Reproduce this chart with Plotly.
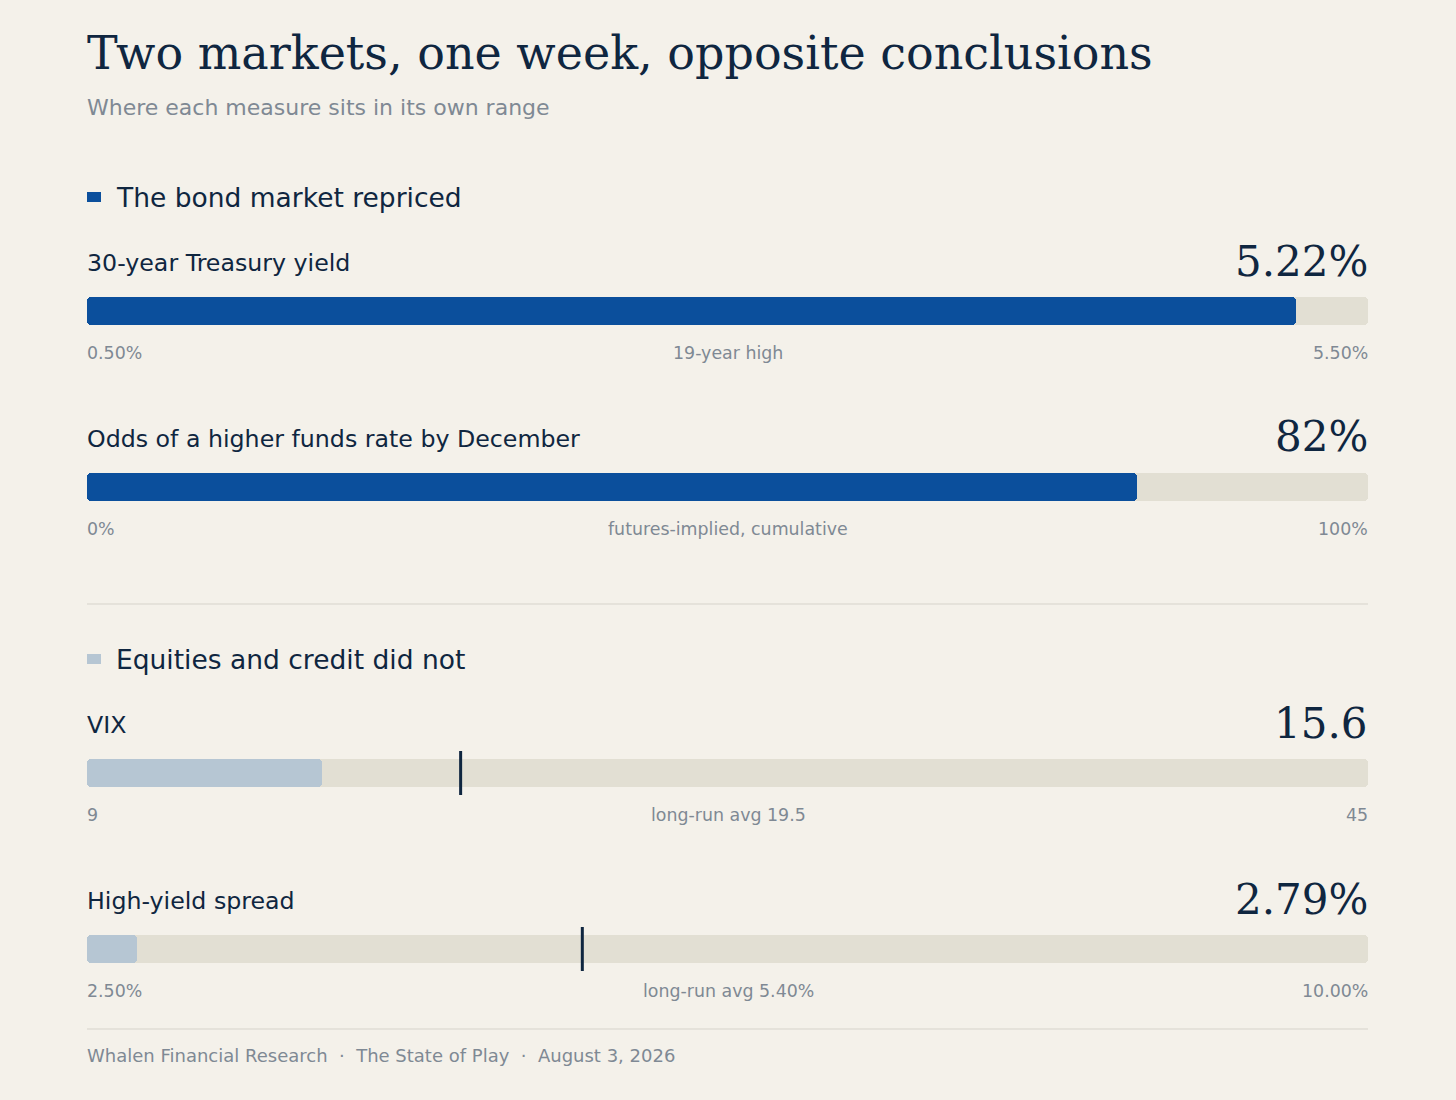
import plotly.graph_objects as go

# data
sections = ["The bond market repriced", "Equities and credit did not"]
section_colors = ["#0b4f9c", "#b6c6d3"]
metrics = ["30-year Treasury yield", "Odds of a higher funds rate by December",
           "VIX", "High-yield spread"]
metric_section = [0, 0, 1, 1]
values = [5.22, 82, 15.6, 2.79]
value_labels = ["5.22%", "82%", "15.6", "2.79%"]
range_min = [0.5, 0, 9, 2.5]
range_max = [5.5, 100, 45, 10.0]
min_labels = ["0.50%", "0%", "9", "2.50%"]
max_labels = ["5.50%", "100%", "45", "10.00%"]
notes = ["19-year high", "futures-implied, cumulative", "long-run avg 19.5", "long-run avg 5.40%"]
averages = [None, None, 19.5, 5.40]

W, H = 1456, 1100
L, R = 87, 1368
BG = "#f4f1ea"
TRACK = "#e2dfd3"
NAVY = "#0f2640"
GRAY = "#7f8994"
SANS = "DejaVu Sans"
SERIF = "DejaVu Serif"


def py(p):
    return 1 - p / H


def px(p):
    return p / W


def note(**kw):
    # plain text annotation, no padding around the text box
    d = dict(showarrow=False, borderpad=0, borderwidth=0, yanchor="middle")
    d.update(kw)
    return d


bar_centers = [311, 487, 773, 949]
section_y = [197, 659]

fig = go.Figure()
annotations = []
shapes = []

for i in range(len(metrics)):
    n = "" if i == 0 else str(i + 1)
    c = bar_centers[i]
    color = section_colors[metric_section[i]]
    # background track
    fig.add_trace(go.Bar(
        y=[0], x=[range_max[i] - range_min[i]], base=[range_min[i]], orientation="h",
        width=28 / 44, marker=dict(color=TRACK, cornerradius=4, line=dict(width=0)),
        xaxis="x" + n, yaxis="y" + n, hoverinfo="skip", showlegend=False))
    # value bar
    fig.add_trace(go.Bar(
        y=[0], x=[values[i] - range_min[i]], base=[range_min[i]], orientation="h",
        width=28 / 44, marker=dict(color=color, cornerradius=4, line=dict(width=0)),
        xaxis="x" + n, yaxis="y" + n, showlegend=False,
        hovertemplate=metrics[i] + ": " + value_labels[i] + "<extra></extra>"))
    if averages[i] is not None:
        fig.add_trace(go.Scatter(
            x=[averages[i], averages[i]], y=[-0.5, 0.5], mode="lines",
            line=dict(color=NAVY, width=3), xaxis="x" + n, yaxis="y" + n,
            showlegend=False, hoverinfo="skip"))

    fig.layout["xaxis" + n] = dict(domain=[px(L), px(R)], range=[range_min[i], range_max[i]],
                                  visible=False, fixedrange=True, anchor="y" + n)
    fig.layout["yaxis" + n] = dict(domain=[py(c + 22), py(c - 22)], range=[-0.5, 0.5],
                                  visible=False, fixedrange=True, anchor="x" + n)

    xr = "x" + n
    annotations += [
        note(text=metrics[i], x=px(L), y=py(c - 48), xref="paper", yref="paper",
             xanchor="left", font=dict(family=SANS, size=23.7, color=NAVY)),
        note(text=value_labels[i], x=px(R), y=py(c - 50), xref="paper", yref="paper",
             xanchor="right", font=dict(family=SERIF, size=42, color=NAVY)),
        note(text=min_labels[i], x=range_min[i], y=py(c + 42), xref=xr, yref="paper",
             xanchor="left", font=dict(family=SANS, size=17.4, color=GRAY)),
        note(text=max_labels[i], x=range_max[i], y=py(c + 42), xref=xr, yref="paper",
             xanchor="right", font=dict(family=SANS, size=17.4, color=GRAY)),
        note(text=notes[i], x=0.5, y=py(c + 42), xref="paper", yref="paper",
             xanchor="center", font=dict(family=SANS, size=17.4, color=GRAY)),
    ]

# section headers
for s, name in enumerate(sections):
    y0 = section_y[s]
    shapes.append(dict(type="rect", xref="paper", yref="paper", x0=px(L), x1=px(L + 14),
                       y0=py(y0 + 5), y1=py(y0 - 5), fillcolor=section_colors[s], line=dict(width=0)))
    annotations.append(note(text=name, x=px(116), y=py(y0), xref="paper", yref="paper",
                            xanchor="left", font=dict(family=SANS, size=26.5, color=NAVY)))

# dividers
for yy in [604, 1029]:
    shapes.append(dict(type="line", xref="paper", yref="paper", x0=px(L), x1=px(R),
                       y0=py(yy), y1=py(yy), line=dict(color="#d6d3cb", width=1)))

# title, subtitle, footer
annotations += [
    note(text="Two markets, one week, opposite conclusions", x=px(L), y=py(53),
         xref="paper", yref="paper", xanchor="left",
         font=dict(family=SERIF, size=46, color=NAVY)),
    note(text="Where each measure sits in its own range", x=px(L), y=py(107),
         xref="paper", yref="paper", xanchor="left",
         font=dict(family=SANS, size=22, color=GRAY)),
    note(text="Whalen Financial Research  ·  The State of Play  ·  August 3, 2026",
         x=px(L), y=py(1055), xref="paper", yref="paper", xanchor="left",
         font=dict(family=SANS, size=18, color=GRAY)),
]

fig.update_layout(
    width=W, height=H, margin=dict(l=0, r=0, t=0, b=0),
    paper_bgcolor=BG, plot_bgcolor=BG, barmode="overlay", bargap=0,
    annotations=annotations, shapes=shapes, showlegend=False,
)

fig.write_html("out.html", config={"displayModeBar": False},
               post_script="document.body.style.margin='0';document.body.style.background='" + BG + "';")
